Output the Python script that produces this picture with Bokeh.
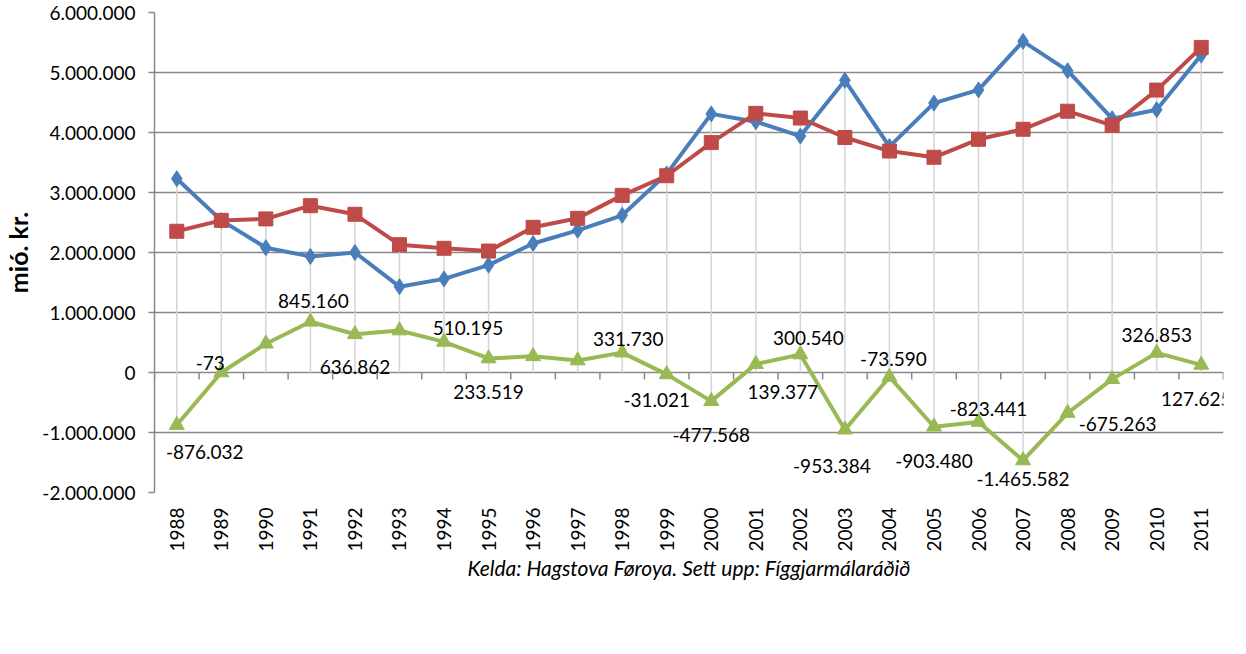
import math
from bokeh.plotting import figure
from bokeh.models import (Range1d, FixedTicker, Legend, LegendItem, ColumnDataSource, LabelSet)
from bokeh.core.properties import value
from bokeh.embed import file_html
from bokeh.resources import INLINE

# ---------------- data ----------------
years = ["1988", "1989", "1990", "1991", "1992", "1993", "1994", "1995", "1996", "1997",
         "1998", "1999", "2000", "2001", "2002", "2003", "2004", "2005", "2006", "2007",
         "2008", "2009", "2010", "2011"]
innflutningur = [3230000, 2535000, 2080000, 1935000, 2000000, 1430000, 1560000, 1790000,
                 2150000, 2370000, 2620000, 3310000, 4310000, 4180000, 3940000, 4870000,
                 3765000, 4490000, 4710000, 5520000, 5030000, 4230000, 4380000, 5290000]
utflutningur = [2354000, 2535000, 2560000, 2780000, 2637000, 2130000, 2070000, 2024000,
                2420000, 2570000, 2952000, 3279000, 3832000, 4319000, 4241000, 3917000,
                3691000, 3587000, 3887000, 4054000, 4355000, 4120000, 4707000, 5418000]
javni = [-876032, -73, 480000, 845160, 636862, 700000, 510195, 233519, 270000, 200000,
         331730, -31021, -477568, 139377, 300540, -953384, -73590, -903480, -823441,
         -1465582, -675263, -110000, 326853, 127625]
# which Javni points carry a data label in the original
labelled_years = ["1988", "1989", "1991", "1992", "1994", "1995", "1998", "1999", "2000",
                  "2001", "2002", "2003", "2004", "2005", "2006", "2007", "2008", "2010", "2011"]
y_ticks = [-2000000, -1000000, 0, 1000000, 2000000, 3000000, 4000000, 5000000, 6000000]
caption = "Kelda: Hagstova Føroya. Sett upp: Fíggjarmálaráðið"
y_title = "mió. kr."
series_names = ["Innflutningur", "Útflutningur", "Javni"]

# ---------------- styling / placement (not data) ----------------
label_offsets = {  # screen px (dx right, dy down) of data labels relative to points
    "1988": (28, 27), "1989": (-11, -10), "1991": (3, -21), "1992": (0, 33),
    "1994": (24, -14), "1995": (0, 34), "1998": (6, -14), "1999": (-10, 26),
    "2000": (0, 34), "2001": (27, 28), "2002": (8, -16), "2003": (-13, 36),
    "2004": (4, -18), "2005": (0, 34), "2006": (10, -13), "2007": (0, 19),
    "2008": (50, 11), "2010": (0, -18), "2011": (-5, 34),
}
BLUE = "#4A7EBB"
RED = "#BE4B48"
GREEN = "#98B954"
GRID = "#898989"
FONT = "Lato"
# page has an 8px margin: the whole figure must fit in 1230 x 638
FIG_W, FIG_H = 1230, 638
LEFT, TOP = 149, 12
FRAME_W, FRAME_H = 1069, 480


def fmt(v):
    return f"{int(v):,}".replace(",", ".")


xs = list(range(len(years)))

p = figure(frame_width=FRAME_W, frame_height=FRAME_H,
           x_range=Range1d(-0.5, len(years) - 0.5),
           y_range=Range1d(y_ticks[0], y_ticks[-1]),
           output_backend="svg", toolbar_location=None,
           min_border_left=LEFT, min_border_right=FIG_W - LEFT - FRAME_W,
           min_border_top=TOP, min_border_bottom=FIG_H - TOP - FRAME_H)
p.outline_line_color = None
p.background_fill_color = "white"
p.border_fill_color = "white"

# x axis (category labels at bottom)
p.xaxis.ticker = FixedTicker(ticks=xs)
p.xaxis.major_label_overrides = {i: y for i, y in zip(xs, years)}
p.xaxis.major_label_orientation = math.pi / 2
p.xaxis.axis_line_color = None
p.xaxis.major_tick_line_color = None
p.xaxis.major_tick_out = 0
p.xaxis.major_tick_in = 0
p.xaxis.minor_tick_line_color = None
p.xaxis.major_label_standoff = 15
p.xaxis.major_label_text_font = FONT
p.xaxis.major_label_text_font_size = "19px"
p.xaxis.major_label_text_color = "black"
p.xaxis.axis_label = caption
p.xaxis.axis_label_text_font = FONT
p.xaxis.axis_label_text_font_style = "italic"
p.xaxis.axis_label_text_font_size = "21px"
p.xaxis.axis_label_text_color = "black"
p.xaxis.axis_label_standoff = 0

# y axis
p.yaxis.ticker = FixedTicker(ticks=y_ticks)
p.yaxis.major_label_overrides = {t: fmt(t) for t in y_ticks}
p.yaxis.axis_line_color = GRID
p.yaxis.axis_line_width = 1.5
p.yaxis.major_tick_line_color = GRID
p.yaxis.major_tick_line_width = 1.5
p.yaxis.major_tick_out = 6
p.yaxis.major_tick_in = 0
p.yaxis.minor_tick_line_color = None
p.yaxis.major_label_standoff = 13
p.yaxis.major_label_text_font = FONT
p.yaxis.major_label_text_font_size = "19px"
p.yaxis.major_label_text_color = "black"
p.yaxis.axis_label = y_title
p.yaxis.axis_label_text_font = FONT
p.yaxis.axis_label_text_font_style = "bold"
p.yaxis.axis_label_text_font_size = "25px"
p.yaxis.axis_label_text_color = "black"
p.yaxis.axis_label_standoff = 6

p.xgrid.grid_line_color = None
p.ygrid.ticker = FixedTicker(ticks=y_ticks)
p.ygrid.grid_line_color = GRID
p.ygrid.grid_line_width = 1.5

# drop lines
tops = [max(a, b, c, 0) for a, b, c in zip(innflutningur, utflutningur, javni)]
bots = [min(a, b, c, 0) for a, b, c in zip(innflutningur, utflutningur, javni)]
p.segment(x0=xs, x1=xs, y0=tops, y1=bots, line_color="#D4D4D4", line_width=1.5)

# category-axis tick marks at the zero line (about 7 px long)
tick_len = 7 * (y_ticks[-1] - y_ticks[0]) / FRAME_H
bx = [i - 0.5 for i in range(len(years) + 1)]
p.segment(x0=bx, x1=bx, y0=[0] * len(bx), y1=[-tick_len] * len(bx),
          line_color=GRID, line_width=1.5)

# series
l1 = p.line(xs, innflutningur, line_color=BLUE, line_width=4)
s1 = p.scatter(xs, innflutningur, marker="diamond", size=16, fill_color=BLUE, line_color=BLUE)
l2 = p.line(xs, utflutningur, line_color=RED, line_width=4)
s2 = p.scatter(xs, utflutningur, marker="square", size=14, fill_color=RED, line_color=RED)
l3 = p.line(xs, javni, line_color=GREEN, line_width=4)
s3 = p.scatter(xs, javni, marker="triangle", size=15, fill_color=GREEN, line_color=GREEN)

# data labels on Javni
lx, ly, lt, ldx, ldy = [], [], [], [], []
for i, y in enumerate(years):
    if y in labelled_years:
        lx.append(i)
        ly.append(javni[i])
        lt.append(fmt(javni[i]))
        dx, dy = label_offsets[y]
        ldx.append(dx)
        ldy.append(-dy)
src = ColumnDataSource(dict(x=lx, y=ly, t=lt, dx=ldx, dy=ldy))
labels = LabelSet(x="x", y="y", text="t", x_offset="dx", y_offset="dy", source=src,
                  text_align="center", text_baseline="middle",
                  text_font=value(FONT), text_font_size=value("19px"),
                  text_color="black")
p.add_layout(labels)

legend = Legend(items=[LegendItem(label=series_names[0], renderers=[l1, s1]),
                       LegendItem(label=series_names[1], renderers=[l2, s2]),
                       LegendItem(label=series_names[2], renderers=[l3, s3])],
                orientation="horizontal", location="center",
                border_line_color=None, background_fill_alpha=0,
                label_text_font=FONT, label_text_font_size="19px",
                glyph_width=50, glyph_height=22, spacing=26, label_standoff=4,
                padding=0, margin=4)
p.add_layout(legend, "below")

open("out.html", "w").write(file_html(p, INLINE))
